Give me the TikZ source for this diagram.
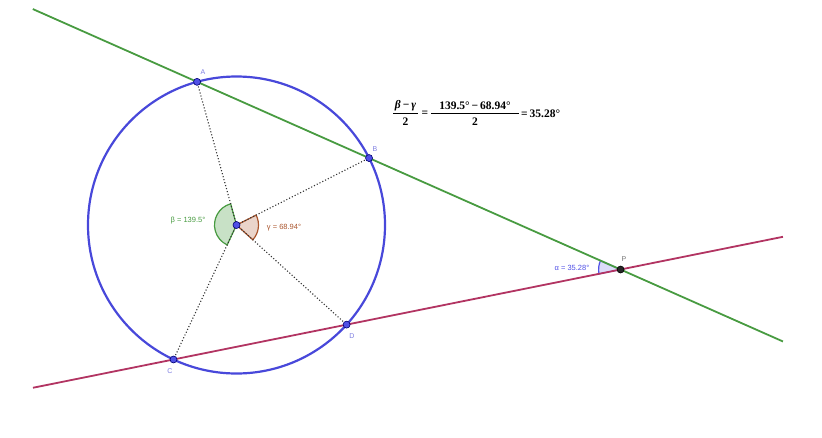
\documentclass[tikz,border=0pt]{standalone}
\usepackage{fontspec}
\newfontfamily\labelfont{Liberation Sans}
\newfontfamily\formfont{Liberation Serif}
\usetikzlibrary{calc}
\definecolor{circblue}{RGB}{72,72,218}
\definecolor{lgreen}{RGB}{72,155,65}
\definecolor{lred}{RGB}{178,52,98}
\definecolor{ptblue}{RGB}{80,80,230}
\definecolor{lblblue}{RGB}{125,125,225}
\definecolor{brn}{RGB}{170,85,45}
\tikzset{
  circ/.style={draw=circblue, line width=2.2pt},
  gline/.style={draw=lgreen, line width=1.8pt},
  rline/.style={draw=lred, line width=1.8pt},
  dots/.style={draw=black!80, line width=1.1pt, dotted},
  ptdot/.style={circle, fill=ptblue, draw=blue!45!black, line width=0.6pt, inner sep=0pt, minimum size=7pt},
  ptdark/.style={circle, fill=black!85, draw=black, line width=0.6pt, inner sep=0pt, minimum size=7pt},
  plabel/.style={font=\labelfont\fontsize{7}{8}\selectfont, text=lblblue, inner sep=0pt},
  alabel/.style={font=\labelfont\fontsize{7.5}{9}\selectfont, inner sep=0pt},
  ftext/.style={font=\formfont\bfseries\fontsize{11.5}{13}\selectfont, inner sep=0pt},
  fbar/.style={draw=black, line width=0.7pt},
}
\begin{document}
\begin{tikzpicture}[x=1pt,y=1pt]
\useasboundingbox (0,0) rectangle (822,-437);
\coordinate (O) at (236.5,-225);
\coordinate (A) at ($(O)+(105.4:148.5)$);
\coordinate (B) at ($(O)+(26.8:148.5)$);
\coordinate (C) at ($(O)+(244.9:148.5)$);
\coordinate (D) at ($(O)+(-42.14:148.5)$);
\coordinate (P) at (intersection of A--B and C--D);
\coordinate (G1) at ($(A)!-0.955!(B)$);
\coordinate (G2) at ($(A)!3.407!(B)$);
\coordinate (R1) at ($(C)!-0.8117!(D)$);
\coordinate (R2) at ($(C)!3.521!(D)$);
% sectors
\filldraw[draw=lgreen, fill=lgreen!30, line width=1.2pt]
  (O) -- ($(O)+(105.4:22)$) arc[start angle=105.4, end angle=244.9, radius=22] -- cycle;
\filldraw[draw=brn, fill=brn!25, line width=1.2pt]
  (O) -- ($(O)+(-42.14:22)$) arc[start angle=-42.14, end angle=26.8, radius=22] -- cycle;
\filldraw[draw=ptblue, fill=ptblue!20, line width=1.2pt]
  (P) -- ($(P)+(156.11:22)$) arc[start angle=156.11, end angle=191.40, radius=22] -- cycle;
% dotted radii
\draw[dots] (O) -- (A);
\draw[dots] (O) -- (B);
\draw[dots] (O) -- (C);
\draw[dots] (O) -- (D);
% lines and circle
\draw[circ] (O) circle[radius=148.5];
\draw[gline] (G1) -- (G2);
\draw[rline] (R1) -- (R2);
% points
\node[ptdot] (dA) at (A) {};
\node[ptdot] (dB) at (B) {};
\node[ptdot] (dC) at (C) {};
\node[ptdot] (dD) at (D) {};
\node[ptdot] (dO) at (O) {};
\node[ptdark] (dP) at (P) {};
% labels
\node[plabel] (lA) at (203,-72) {A};
\node[plabel] (lB) at (375,-149) {B};
\node[plabel] (lC) at (170,-371) {C};
\node[plabel] (lD) at (352,-336) {D};
\node[plabel, text=black!55] (lP) at (624,-259) {P};
\node[alabel, text=lgreen] (lbeta) at (188,-221) {β = 139.5°};
\node[alabel, text=brn] (lgamma) at (284,-228) {γ = 68.94°};
\node[alabel, text=ptblue] (lalpha) at (572,-268) {α = 35.28°};
% formula
\node[ftext] (n1) at (405.5,-106) {\itshape β\upshape\,−\,\itshape γ};
\node[ftext] (d1) at (405.5,-122) {2};
\coordinate (b1l) at (393,-113.5);
\coordinate (b1r) at (418,-113.5);
\draw[fbar] (b1l) -- (b1r);
\node[ftext] (e1) at (425,-114) {=};
\node[ftext] (n2) at (475,-106) {139.5°\,−\,68.94°};
\node[ftext] (d2) at (475,-122) {2};
\coordinate (b2l) at (431,-113.5);
\coordinate (b2r) at (519,-113.5);
\draw[fbar] (b2l) -- (b2r);
\node[ftext, anchor=west] (e2) at (521,-114) {=\,35.28°};
\end{tikzpicture}
\end{document}
